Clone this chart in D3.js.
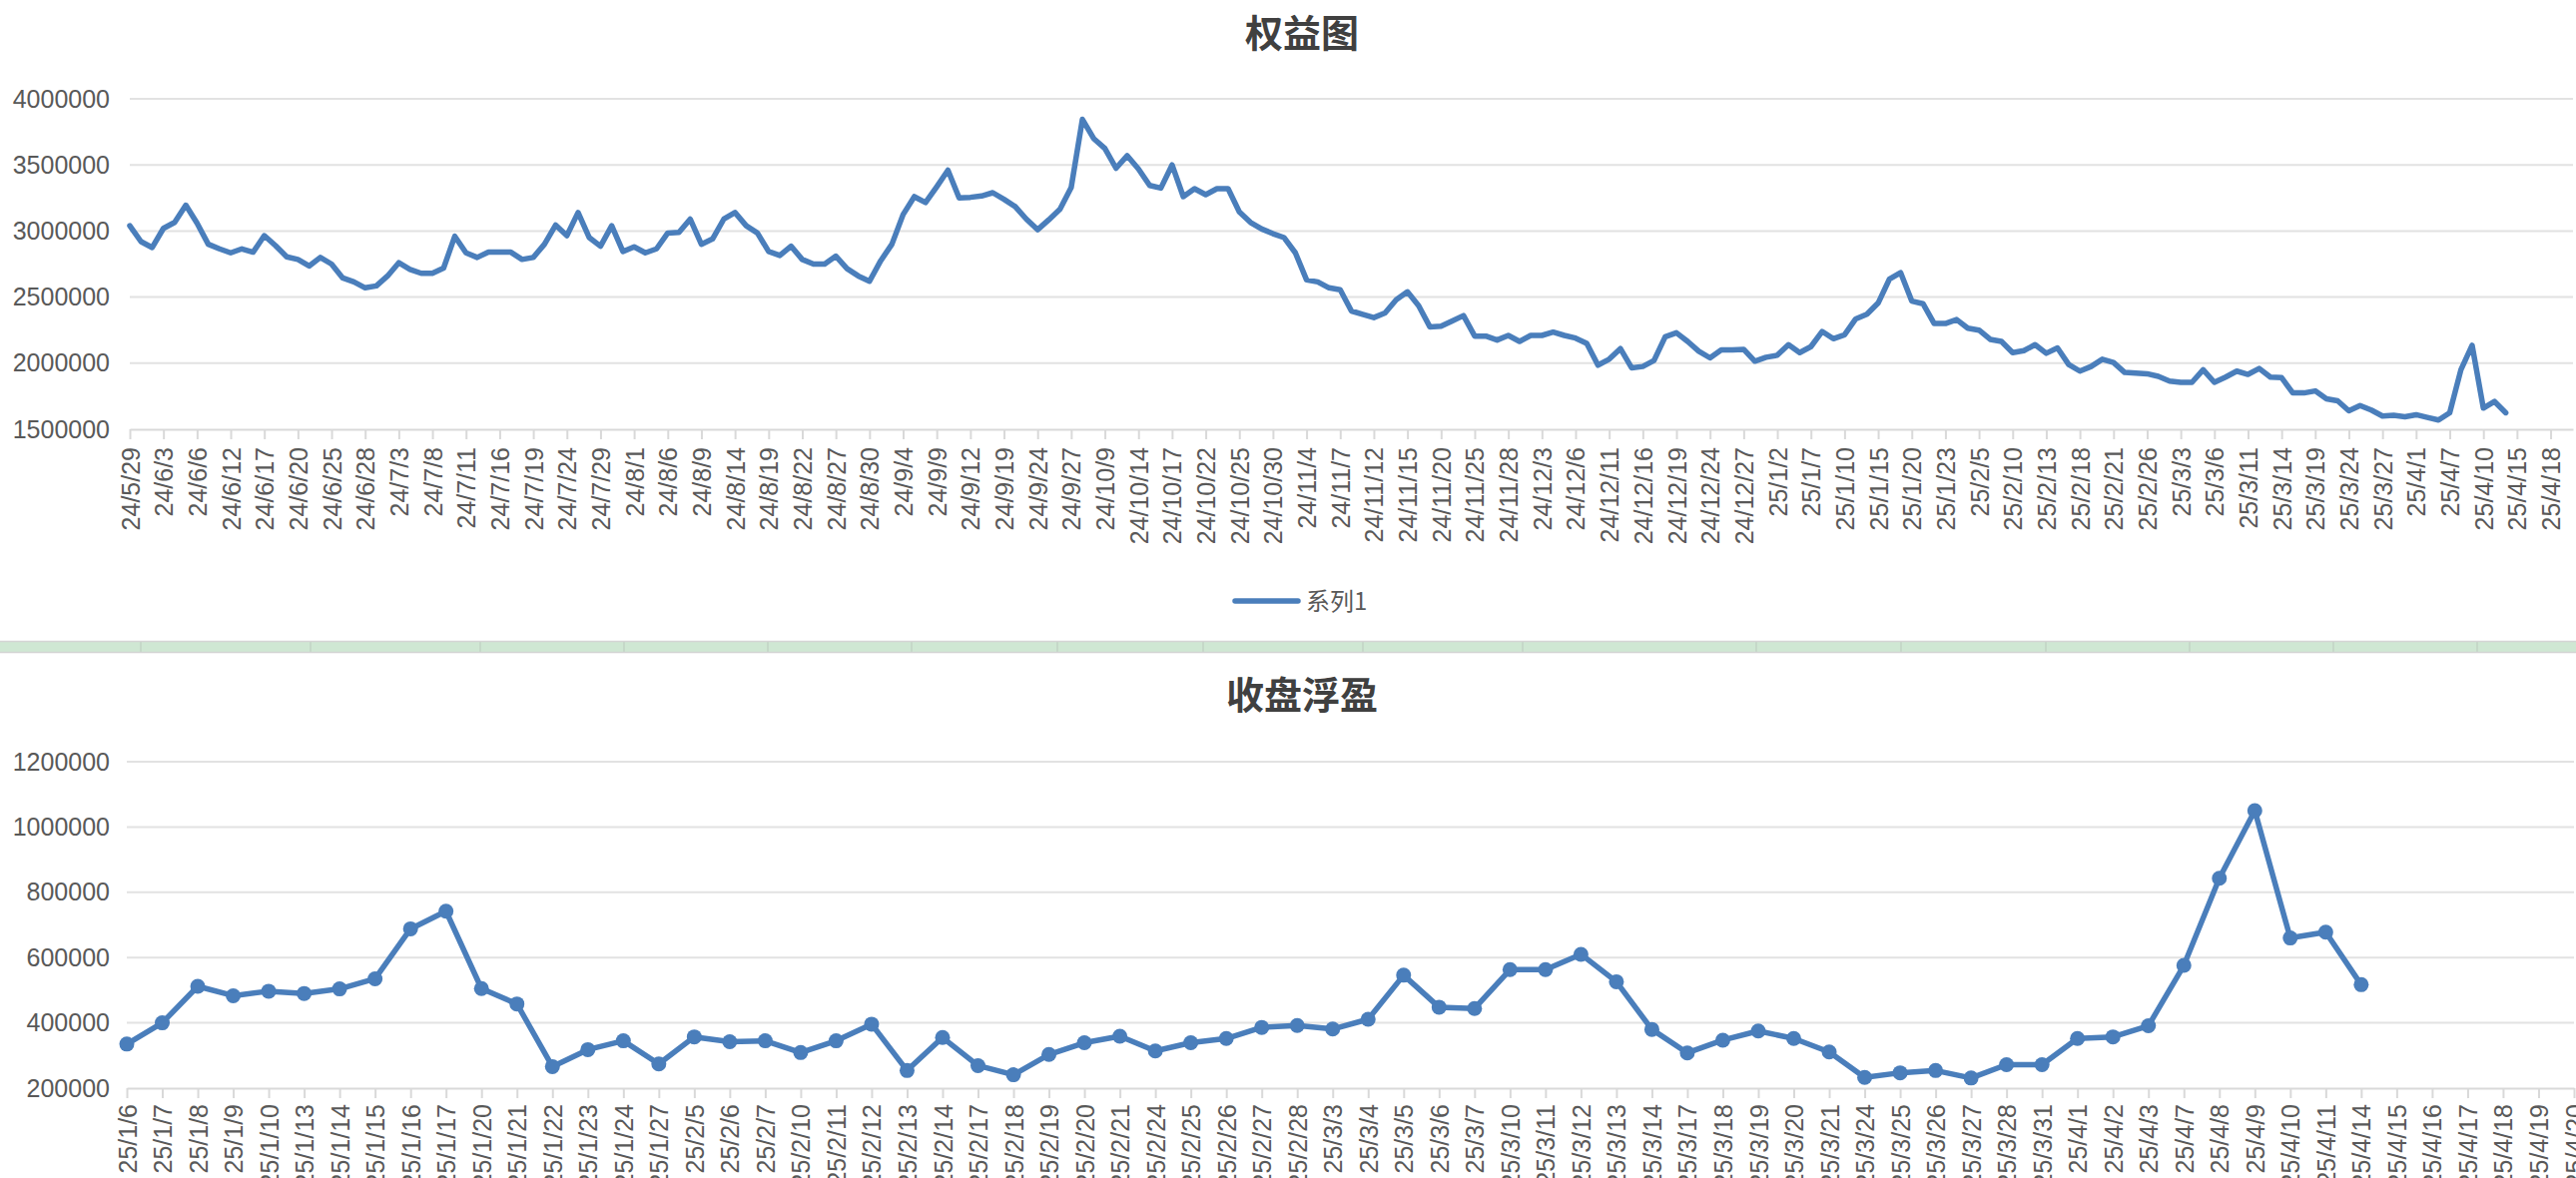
<!DOCTYPE html>
<html lang="zh">
<head>
<meta charset="utf-8">
<script src="https://cdn.jsdelivr.net/npm/d3@7"></script>
<style>
    body { margin: 0; background: #fff; }
    svg { display: block; }
</style>
</head>
<body>
<script>
    var W = 2580, H = 1180;

    // 权益图: trading days 24/5/29 .. 25/4/22
    var equityDates = [
        '24/5/29','24/5/30','24/5/31',
        '24/6/3','24/6/4','24/6/5','24/6/6','24/6/7','24/6/11','24/6/12','24/6/13','24/6/14','24/6/17','24/6/18','24/6/19','24/6/20','24/6/21','24/6/24','24/6/25','24/6/26','24/6/27','24/6/28',
        '24/7/1','24/7/2','24/7/3','24/7/4','24/7/5','24/7/8','24/7/9','24/7/10','24/7/11','24/7/12','24/7/15','24/7/16','24/7/17','24/7/18','24/7/19','24/7/22','24/7/23','24/7/24','24/7/25','24/7/26','24/7/29','24/7/30','24/7/31',
        '24/8/1','24/8/2','24/8/5','24/8/6','24/8/7','24/8/8','24/8/9','24/8/12','24/8/13','24/8/14','24/8/15','24/8/16','24/8/19','24/8/20','24/8/21','24/8/22','24/8/23','24/8/26','24/8/27','24/8/28','24/8/29','24/8/30',
        '24/9/2','24/9/3','24/9/4','24/9/5','24/9/6','24/9/9','24/9/10','24/9/11','24/9/12','24/9/13','24/9/18','24/9/19','24/9/20','24/9/23','24/9/24','24/9/25','24/9/26','24/9/27','24/9/30',
        '24/10/8','24/10/9','24/10/10','24/10/11','24/10/14','24/10/15','24/10/16','24/10/17','24/10/18','24/10/21','24/10/22','24/10/23','24/10/24','24/10/25','24/10/28','24/10/29','24/10/30','24/10/31',
        '24/11/1','24/11/4','24/11/5','24/11/6','24/11/7','24/11/8','24/11/11','24/11/12','24/11/13','24/11/14','24/11/15','24/11/18','24/11/19','24/11/20','24/11/21','24/11/22','24/11/25','24/11/26','24/11/27','24/11/28','24/11/29',
        '24/12/2','24/12/3','24/12/4','24/12/5','24/12/6','24/12/9','24/12/10','24/12/11','24/12/12','24/12/13','24/12/16','24/12/17','24/12/18','24/12/19','24/12/20','24/12/23','24/12/24','24/12/25','24/12/26','24/12/27','24/12/30','24/12/31',
        '25/1/2','25/1/3','25/1/6','25/1/7','25/1/8','25/1/9','25/1/10','25/1/13','25/1/14','25/1/15','25/1/16','25/1/17','25/1/20','25/1/21','25/1/22','25/1/23','25/1/24','25/1/27',
        '25/2/5','25/2/6','25/2/7','25/2/10','25/2/11','25/2/12','25/2/13','25/2/14','25/2/17','25/2/18','25/2/19','25/2/20','25/2/21','25/2/24','25/2/25','25/2/26','25/2/27','25/2/28',
        '25/3/3','25/3/4','25/3/5','25/3/6','25/3/7','25/3/10','25/3/11','25/3/12','25/3/13','25/3/14','25/3/17','25/3/18','25/3/19','25/3/20','25/3/21','25/3/24','25/3/25','25/3/26','25/3/27','25/3/28','25/3/31',
        '25/4/1','25/4/2','25/4/3','25/4/7','25/4/8','25/4/9','25/4/10','25/4/11','25/4/14','25/4/15','25/4/16','25/4/17','25/4/18','25/4/21','25/4/22'
    ];

    var equityValues = [
        3040000, 2920000, 2875000,
        3020000, 3065000, 3195000, 3060000, 2900000, 2865000, 2835000, 2865000, 2840000, 2965000, 2890000, 2805000, 2785000, 2735000, 2800000, 2750000, 2645000, 2615000, 2570000,
        2585000, 2660000, 2760000, 2710000, 2680000, 2680000, 2720000, 2960000, 2835000, 2800000, 2840000, 2840000, 2840000, 2785000, 2800000, 2900000, 3045000, 2965000, 3140000, 2950000, 2885000,
        3040000, 2845000, 2880000, 2835000, 2865000, 2985000, 2990000, 3090000, 2900000, 2940000, 3090000, 3140000, 3040000, 2985000, 2845000, 2815000, 2885000, 2785000, 2750000, 2750000, 2810000, 2715000,
        2660000, 2620000, 2775000, 2900000, 3125000, 3260000, 3215000, 3335000, 3460000, 3250000, 3255000, 3265000, 3290000, 3240000, 3185000, 3090000, 3010000, 3085000, 3165000,
        3330000, 3845000, 3700000, 3625000, 3475000, 3570000, 3470000, 3345000, 3325000, 3500000, 3260000, 3320000, 3275000, 3320000, 3320000, 3145000, 3065000, 3015000,
        2980000, 2950000, 2835000, 2630000, 2615000, 2570000, 2555000, 2395000, 2370000, 2345000, 2380000, 2480000, 2540000, 2435000, 2275000, 2280000, 2320000, 2360000, 2205000, 2205000, 2175000,
        2210000, 2165000, 2210000, 2210000, 2235000, 2210000, 2190000, 2150000, 1985000, 2030000, 2110000, 1965000, 1975000, 2020000, 2200000, 2230000, 2165000, 2090000, 2040000, 2100000, 2100000, 2105000,
        2015000, 2045000, 2060000, 2140000, 2080000, 2125000, 2240000, 2185000, 2215000, 2335000, 2370000, 2455000, 2635000, 2685000, 2470000, 2450000, 2300000, 2300000,
        2330000, 2265000, 2250000, 2180000, 2165000, 2080000, 2095000, 2140000, 2075000, 2115000, 1990000, 1940000, 1975000, 2030000, 2005000, 1930000, 1925000, 1920000,
        1900000, 1865000, 1855000, 1855000, 1950000, 1855000, 1895000, 1940000, 1915000, 1960000, 1895000, 1890000, 1775000, 1775000, 1790000, 1730000, 1715000, 1640000, 1680000, 1645000, 1600000,
        1605000, 1595000, 1610000, 1590000, 1570000, 1625000, 1950000, 2135000, 1660000, 1710000, 1625000
    ];
    var equityTicks = [1500000, 2000000, 2500000, 3000000, 3500000, 4000000];

    // 收盘浮盈
    var profitDates = [
        '25/1/6','25/1/7','25/1/8','25/1/9','25/1/10','25/1/13','25/1/14','25/1/15','25/1/16','25/1/17','25/1/20','25/1/21','25/1/22','25/1/23','25/1/24','25/1/27',
        '25/2/5','25/2/6','25/2/7','25/2/10','25/2/11','25/2/12','25/2/13','25/2/14','25/2/17','25/2/18','25/2/19','25/2/20','25/2/21','25/2/24','25/2/25','25/2/26','25/2/27','25/2/28',
        '25/3/3','25/3/4','25/3/5','25/3/6','25/3/7','25/3/10','25/3/11','25/3/12','25/3/13','25/3/14','25/3/17','25/3/18','25/3/19','25/3/20','25/3/21','25/3/24','25/3/25','25/3/26','25/3/27','25/3/28','25/3/31',
        '25/4/1','25/4/2','25/4/3','25/4/7','25/4/8','25/4/9','25/4/10','25/4/11','25/4/14','25/4/15','25/4/16','25/4/17','25/4/18','25/4/19','25/4/20'
    ];
    var profitValues = [
        335000, 400000, 512000, 483000, 497000, 490000, 504000, 535000, 688000, 742000, 505000, 458000, 266000, 318000, 345000, 274000,
        357000, 342000, 345000, 309000, 345000, 396000, 254000, 355000, 269000, 241000, 303000, 339000, 359000, 314000, 339000, 352000, 386000, 392000,
        381000, 411000, 546000, 448000, 444000, 563000, 563000, 610000, 526000, 380000, 308000, 347000, 375000, 352000, 311000, 233000, 247000, 254000, 231000, 272000, 272000,
        352000, 357000, 391000, 576000, 843000, 1050000, 660000, 678000, 517000
    ];
    var profitTicks = [200000, 400000, 600000, 800000, 1000000, 1200000];

    var BLUE = '#4a7ebb';
    var LABEL = '#595959';
    var GRID = '#e2e2e2';
    var LATIN = '"Liberation Sans", Arial, Helvetica, sans-serif';
    var CJK = '"Noto Sans CJK SC", "Noto Sans", sans-serif';

    var svg = d3.select('body').append('svg')
        .attr('width', W).attr('height', H)
        .style('background', '#fff');

    function drawChart(opt) {
        var g = svg.append('g');
        var x = d3.scalePoint().domain(opt.dates).range([opt.left, opt.right]);
        var y = d3.scaleLinear().domain([opt.ticks[0], opt.ticks[opt.ticks.length - 1]]).range([opt.bottom, opt.top]);

        // title
        g.append('text')
            .attr('x', opt.titleX).attr('y', opt.titleY)
            .attr('text-anchor', 'middle')
            .style('font-family', CJK).style('font-weight', 'bold')
            .style('font-size', '38px').style('fill', '#404040')
            .text(opt.title);

        // gridlines
        g.selectAll('.grid').data(opt.ticks.slice(1)).enter().append('line')
            .attr('x1', opt.left).attr('x2', opt.right)
            .attr('y1', function(d) { return y(d); })
            .attr('y2', function(d) { return y(d); })
            .attr('stroke', GRID).attr('stroke-width', 2);

        // y axis labels
        var yAxis = g.append('g')
            .attr('transform', 'translate(' + opt.left + ',0)')
            .call(d3.axisLeft(y).tickValues(opt.ticks).tickSize(0).tickPadding(opt.left - 110).tickFormat(d3.format('d')));
        yAxis.select('.domain').remove();
        yAxis.selectAll('text')
            .style('font-family', LATIN).style('font-size', '25px').style('fill', LABEL);

        // x axis
        var xAxis = g.append('g')
            .attr('transform', 'translate(0,' + opt.bottom + ')')
            .call(d3.axisBottom(x)
                .tickValues(opt.dates.filter(function(d, i) { return i % opt.every === 0; }))
                .tickSize(10).tickSizeOuter(0));
        xAxis.select('.domain').attr('stroke', '#d9d9d9').attr('stroke-width', 2);
        xAxis.selectAll('.tick line').attr('stroke', '#d9d9d9').attr('stroke-width', 2);
        xAxis.selectAll('text')
            .attr('transform', 'rotate(-90)')
            .attr('text-anchor', 'end')
            .attr('x', -opt.labelGap).attr('y', 0).attr('dy', '0.36em')
            .style('font-family', LATIN).style('font-size', '25px').style('fill', LABEL);

        // series
        var line = d3.line()
            .x(function(d, i) { return x(opt.dates[i]); })
            .y(function(d) { return y(d); });
        g.append('path')
            .attr('d', line(opt.values))
            .attr('fill', 'none').attr('stroke', BLUE)
            .attr('stroke-width', 5.5).attr('stroke-linejoin', 'round').attr('stroke-linecap', 'round');

        if (opt.markers) {
            g.selectAll('.pt').data(opt.values).enter().append('circle')
                .attr('cx', function(d, i) { return x(opt.dates[i]); })
                .attr('cy', function(d) { return y(d); })
                .attr('r', 7.5)
                .attr('fill', BLUE);
        }
        return g;
    }

    var equityChart = drawChart({
        title: '权益图', titleX: 1304, titleY: 47,
        dates: equityDates, values: equityValues, ticks: equityTicks,
        left: 130, right: 2577, top: 99, bottom: 430,
        every: 3, labelGap: 18, markers: false
    });

    // legend
    var legend = equityChart.append('g');
    legend.append('line')
        .attr('x1', 1237).attr('x2', 1300).attr('y1', 602).attr('y2', 602)
        .attr('stroke', BLUE).attr('stroke-width', 5.5).attr('stroke-linecap', 'round');
    legend.append('text')
        .attr('x', 1308).attr('y', 611)
        .style('font-family', CJK).style('font-size', '24px').style('fill', LABEL)
        .text('系列1');

    // strip between the two charts
    var stripCols = [141, 311, 481, 625, 769, 913, 1059, 1205, 1365, 1525, 1759, 1904, 2049, 2193, 2337, 2481];
    var strip = svg.append('g');
    strip.append('rect')
        .attr('x', 0).attr('y', 643).attr('width', W).attr('height', 10)
        .attr('fill', '#cfe7d3');
    strip.selectAll('.col').data(stripCols).enter().append('line')
        .attr('x1', function(d) { return d; }).attr('x2', function(d) { return d; })
        .attr('y1', 643).attr('y2', 653)
        .attr('stroke', '#c2d3c5').attr('stroke-width', 1.5);
    strip.append('line').attr('x1', 0).attr('x2', W).attr('y1', 642.5).attr('y2', 642.5)
        .attr('stroke', '#d4d4d4').attr('stroke-width', 1.5);
    strip.append('line').attr('x1', 0).attr('x2', W).attr('y1', 653.5).attr('y2', 653.5)
        .attr('stroke', '#d4d4d4').attr('stroke-width', 1.5);

    drawChart({
        title: '收盘浮盈', titleX: 1304, titleY: 710,
        dates: profitDates, values: profitValues, ticks: profitTicks,
        left: 127, right: 2578, top: 763, bottom: 1090,
        every: 1, labelGap: 16, markers: true
    });
</script>
</body>
</html>
